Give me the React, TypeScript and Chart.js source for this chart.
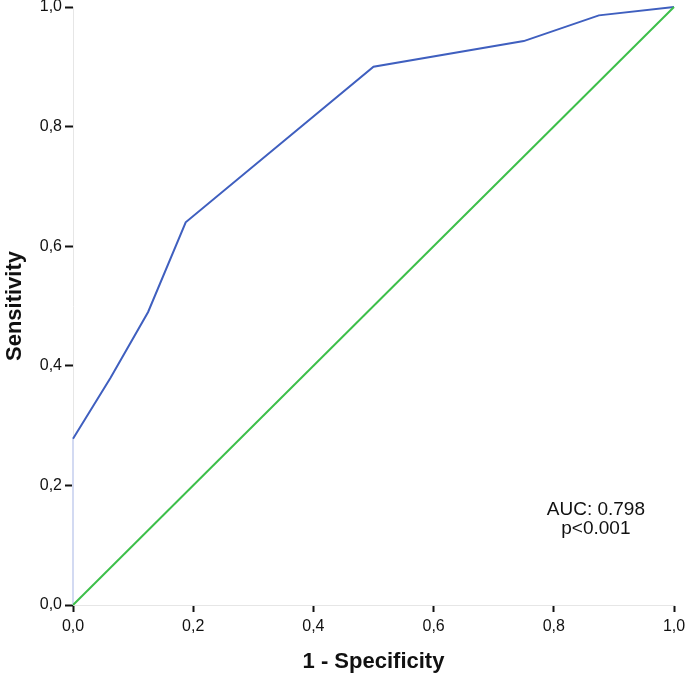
import React, { useEffect, useRef } from "react";
import { Chart, registerables } from "chart.js";

Chart.register(...registerables);

const rocX = [0, 0, 0.0625, 0.125, 0.1875, 0.5, 0.75, 0.875, 1.0];
const rocY = [0, 0.278, 0.38, 0.49, 0.64, 0.9, 0.943, 0.986, 1.0];
const refX = [0, 1];
const refY = [0, 1];
const tickValues = [0, 0.2, 0.4, 0.6, 0.8, 1.0];
const annotationLines = ["AUC: 0.798", "p<0.001"];

const FONT = "'Liberation Sans', Arial, sans-serif";

export default function App() {
  const ref = useRef<HTMLCanvasElement | null>(null);

  useEffect(() => {
    const canvas = ref.current;
    if (!canvas) return;

    const textPlugin = {
      id: "aucText",
      afterDatasetsDraw(chart: any) {
        const ctx = chart.ctx;
        const xs = chart.scales.x;
        const ys = chart.scales.y;
        ctx.save();
        ctx.fillStyle = "#111";
        ctx.font = `19px ${FONT}`;
        ctx.textAlign = "center";
        ctx.textBaseline = "middle";
        const cx = xs.getPixelForValue(0.87);
        ctx.fillText(annotationLines[0], cx, ys.getPixelForValue(0.159));
        ctx.fillText(annotationLines[1], cx, ys.getPixelForValue(0.127));
        ctx.restore();
      },
    };

    const chart = new Chart(canvas, {
      type: "scatter",
      data: {
        datasets: [
          {
            data: refX.map((x, i) => ({ x, y: refY[i] })),
            showLine: true,
            borderColor: "#3dbf4a",
            borderWidth: 2,
            pointRadius: 0,
            clip: false as any,
          },
          {
            data: rocX.map((x, i) => ({ x, y: rocY[i] })),
            showLine: true,
            borderColor: "#3f5fbf",
            borderWidth: 2,
            pointRadius: 0,
            clip: false as any,
            segment: {
              borderColor: (c: any) => (c.p0DataIndex === 0 ? "#d3daf2" : "#3f5fbf"),
            },
          },
        ],
      },
      options: {
        animation: false,
        responsive: false,
        maintainAspectRatio: false,
        layout: { padding: { top: 7, right: 11, left: 0, bottom: 0 } },
        plugins: { legend: { display: false }, tooltip: { enabled: false } },
        scales: {
          x: {
            type: "linear",
            min: 0,
            max: 1,
            afterFit: (s: any) => {
              s.height = 73;
              s.paddingLeft = 0;
              s.paddingRight = 0;
            },
            afterBuildTicks: (s: any) => {
              s.ticks = tickValues.map((v) => ({ value: v }));
            },
            border: { color: "#e6e6e6", width: 1 },
            grid: {
              drawOnChartArea: false,
              drawTicks: true,
              tickLength: 7,
              tickWidth: 2,
              tickColor: "#111",
            },
            ticks: {
              color: "#111",
              font: { family: FONT, size: 16 },
              padding: 5,
              maxRotation: 0,
              callback: (v: any) => Number(v).toFixed(1).replace(".", ","),
            },
            title: {
              display: true,
              text: "1 - Specificity",
              color: "#111",
              font: { family: FONT, size: 22, weight: "bold" },
              padding: { top: 0, bottom: 3 },
            },
          },
          y: {
            type: "linear",
            min: 0,
            max: 1,
            afterFit: (s: any) => {
              s.width = 73;
              s.paddingTop = 0;
              s.paddingBottom = 0;
            },
            afterBuildTicks: (s: any) => {
              s.ticks = tickValues.map((v) => ({ value: v }));
            },
            border: { color: "#e6e6e6", width: 1 },
            grid: {
              drawOnChartArea: false,
              drawTicks: true,
              tickLength: 8,
              tickWidth: 2,
              tickColor: "#111",
            },
            ticks: {
              color: "#111",
              font: { family: FONT, size: 16 },
              padding: 3,
              callback: (v: any) => Number(v).toFixed(1).replace(".", ","),
            },
            title: {
              display: true,
              text: "Sensitivity",
              color: "#111",
              font: { family: FONT, size: 22, weight: "bold" },
              padding: { top: 2, bottom: 0 },
            },
          },
        },
      },
      plugins: [textPlugin],
    });

    return () => chart.destroy();
  }, []);

  return (
    <div style={{ position: "absolute", left: 0, top: 0, width: 685, height: 678, background: "#fff" }}>
      <canvas ref={ref} width={685} height={678} style={{ display: "block" }} />
    </div>
  );
}
